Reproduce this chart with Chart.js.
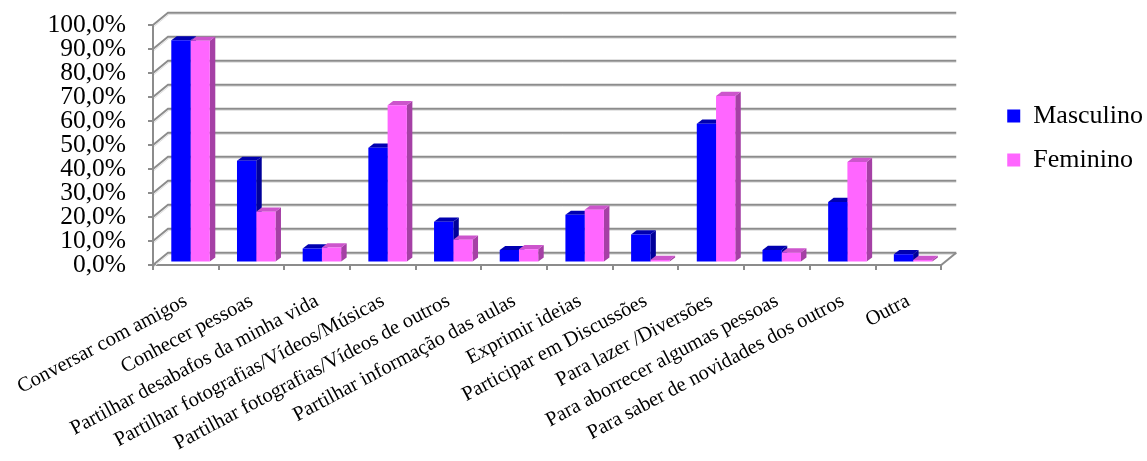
<!DOCTYPE html>
<html>
<head>
<meta charset="utf-8">
<script src="https://cdn.jsdelivr.net/npm/chart.js@4/dist/chart.umd.min.js"></script>
<style>
  html, body { margin: 0; padding: 0; background: #ffffff; }
  #wrap { width: 1147px; height: 461px; }
</style>
</head>
<body>
<div id="wrap"><canvas id="chart" width="1147" height="461"></canvas></div>
<script>
// Motivos de utilização das redes sociais, por sexo (%)
const categories = [
  "Conversar com amigos",
  "Conhecer pessoas",
  "Partilhar desabafos da minha vida",
  "Partilhar fotografias/Vídeos/Músicas",
  "Partilhar fotografias/Vídeos de outros",
  "Partilhar informação das aulas",
  "Exprimir ideias",
  "Participar em Discussões",
  "Para lazer /Diversões",
  "Para aborrecer algumas pessoas",
  "Para saber de novidades dos outros",
  "Outra"
];
const masculino = [92.6, 42.4, 5.9, 47.9, 17.0, 5.2, 19.9, 11.7, 57.9, 5.3, 25.3, 3.5];
const feminino  = [92.4, 21.2, 6.3, 65.6, 9.5, 5.6, 22.0, 1.1, 69.4, 4.2, 41.9, 1.1];
const seriesNames = ["Masculino", "Feminino"];
const yTicks = [0, 10, 20, 30, 40, 50, 60, 70, 80, 90, 100];

const FONT = "'Liberation Serif', 'Times New Roman', serif";
const GRID = '#8c8c8c';

// 3D look: offsets of the back wall and of the bars' own depth
const WALL = { dx: 15, dy: -12.3 };
const BAR_PLANE = { dx: 4.7, dy: -2.4 };
const BAR_DEPTH = { dx: 5.5, dy: -4.2 };

const faceColors = [
  { side: '#00009a', top: '#0000b0' },
  { side: '#a540a5', top: '#cc55cc' }
];

function fmtPct(v) {
  return v.toFixed(1).replace('.', ',') + '%';
}

const wall3d = {
  id: 'wall3d',
  beforeDatasetsDraw(chart) {
    const { ctx, chartArea } = chart;
    const ys = chart.scales.y;
    const left = chartArea.left, right = chartArea.right;
    ctx.save();
    ctx.lineCap = 'butt';
    yTicks.forEach(v => {
      const yf = ys.getPixelForValue(v);
      // soft shadow under each wall line
      ctx.strokeStyle = '#dedede';
      ctx.lineWidth = 1;
      ctx.beginPath();
      ctx.moveTo(left + 1, yf + 1.6);
      ctx.lineTo(left + WALL.dx + 1, yf + WALL.dy + 1.6);
      ctx.lineTo(right + WALL.dx, yf + WALL.dy + 1.6);
      ctx.stroke();
      ctx.strokeStyle = GRID;
      ctx.lineWidth = 2;
      ctx.beginPath();
      ctx.moveTo(left, yf);
      ctx.lineTo(left + WALL.dx, yf + WALL.dy);
      ctx.lineTo(right + WALL.dx, yf + WALL.dy);
      ctx.stroke();
    });
    // right edge of the floor
    const y0 = ys.getPixelForValue(0);
    ctx.strokeStyle = GRID;
    ctx.lineWidth = 2;
    ctx.beginPath();
    ctx.moveTo(right, y0);
    ctx.lineTo(right + WALL.dx, y0 + WALL.dy);
    ctx.stroke();
    ctx.restore();

    // bars sit a little behind the front plane; draw their side and top faces first
    ctx.save();
    ctx.translate(BAR_PLANE.dx, BAR_PLANE.dy);
    chart.data.datasets.forEach((ds, i) => {
      const meta = chart.getDatasetMeta(i);
      const fc = faceColors[i];
      meta.data.forEach(bar => {
        const p = bar.getProps(['x', 'y', 'base', 'width'], true);
        const l = p.x - p.width / 2, r = p.x + p.width / 2;
        const t = Math.min(p.y, p.base), b = Math.max(p.y, p.base);
        // side
        ctx.fillStyle = fc.side;
        ctx.beginPath();
        ctx.moveTo(r, t);
        ctx.lineTo(r + BAR_DEPTH.dx, t + BAR_DEPTH.dy);
        ctx.lineTo(r + BAR_DEPTH.dx, b + BAR_DEPTH.dy);
        ctx.lineTo(r, b);
        ctx.closePath();
        ctx.fill();
        // top
        ctx.fillStyle = fc.top;
        ctx.beginPath();
        ctx.moveTo(l, t);
        ctx.lineTo(l + BAR_DEPTH.dx, t + BAR_DEPTH.dy);
        ctx.lineTo(r + BAR_DEPTH.dx, t + BAR_DEPTH.dy);
        ctx.lineTo(r, t);
        ctx.closePath();
        ctx.fill();
      });
    });
  },
  afterDatasetsDraw(chart) {
    chart.ctx.restore();
  }
};

new Chart(document.getElementById('chart'), {
  type: 'bar',
  data: {
    labels: categories,
    datasets: [
      { label: seriesNames[0], data: masculino, backgroundColor: '#0000ff', borderWidth: 0 },
      { label: seriesNames[1], data: feminino, backgroundColor: '#ff66ff', borderWidth: 0 }
    ]
  },
  options: {
    responsive: false,
    animation: false,
    events: [],
    layout: { padding: { top: 25, left: 0, right: -6, bottom: 0 } },
    datasets: { bar: { categoryPercentage: 0.586, barPercentage: 1.0 } },
    plugins: {
      tooltip: { enabled: false },
      legend: {
        position: 'right',
        align: 'start',
        title: { display: true, text: ' ', font: { size: 10 }, padding: { top: 48, bottom: 0 } },
        labels: {
          color: '#000000',
          font: { family: FONT, size: 26 },
          boxWidth: 13,
          boxHeight: 13,
          padding: 18
        }
      }
    },
    scales: {
      x: {
        offset: true,
        grid: { display: true, drawOnChartArea: false, drawTicks: true, tickLength: 5, offset: true, color: GRID, lineWidth: 2 },
        border: { display: true, color: GRID, width: 2 },
        ticks: {
          color: '#000000',
          font: { family: FONT, size: 20.5 },
          minRotation: 28,
          maxRotation: 28,
          autoSkip: false,
          padding: 19
        },
        afterFit(s) { s.height = 196; s.paddingLeft = 0; s.paddingRight = 0; }
      },
      y: {
        min: 0,
        max: 100,
        afterBuildTicks(s) { s.ticks = yTicks.map(v => ({ value: v })); },
        grid: { display: true, drawOnChartArea: false, drawTicks: true, tickLength: 5, color: GRID, lineWidth: 2 },
        border: { display: true, color: GRID, width: 2 },
        ticks: {
          color: '#000000',
          font: { family: FONT, size: 25.5 },
          padding: 22,
          autoSkip: false,
          callback: v => fmtPct(v)
        },
        afterFit(s) { s.width = 153; s.paddingTop = 10; s.paddingBottom = 0; }
      },
      yRight: {
        position: 'right',
        display: true,
        min: 0,
        max: 100,
        grid: { display: false },
        border: { display: false },
        ticks: { display: false },
        afterFit(s) { s.width = 48; s.paddingTop = 0; s.paddingBottom = 0; }
      }
    }
  },
  plugins: [wall3d]
});
</script>
</body>
</html>
